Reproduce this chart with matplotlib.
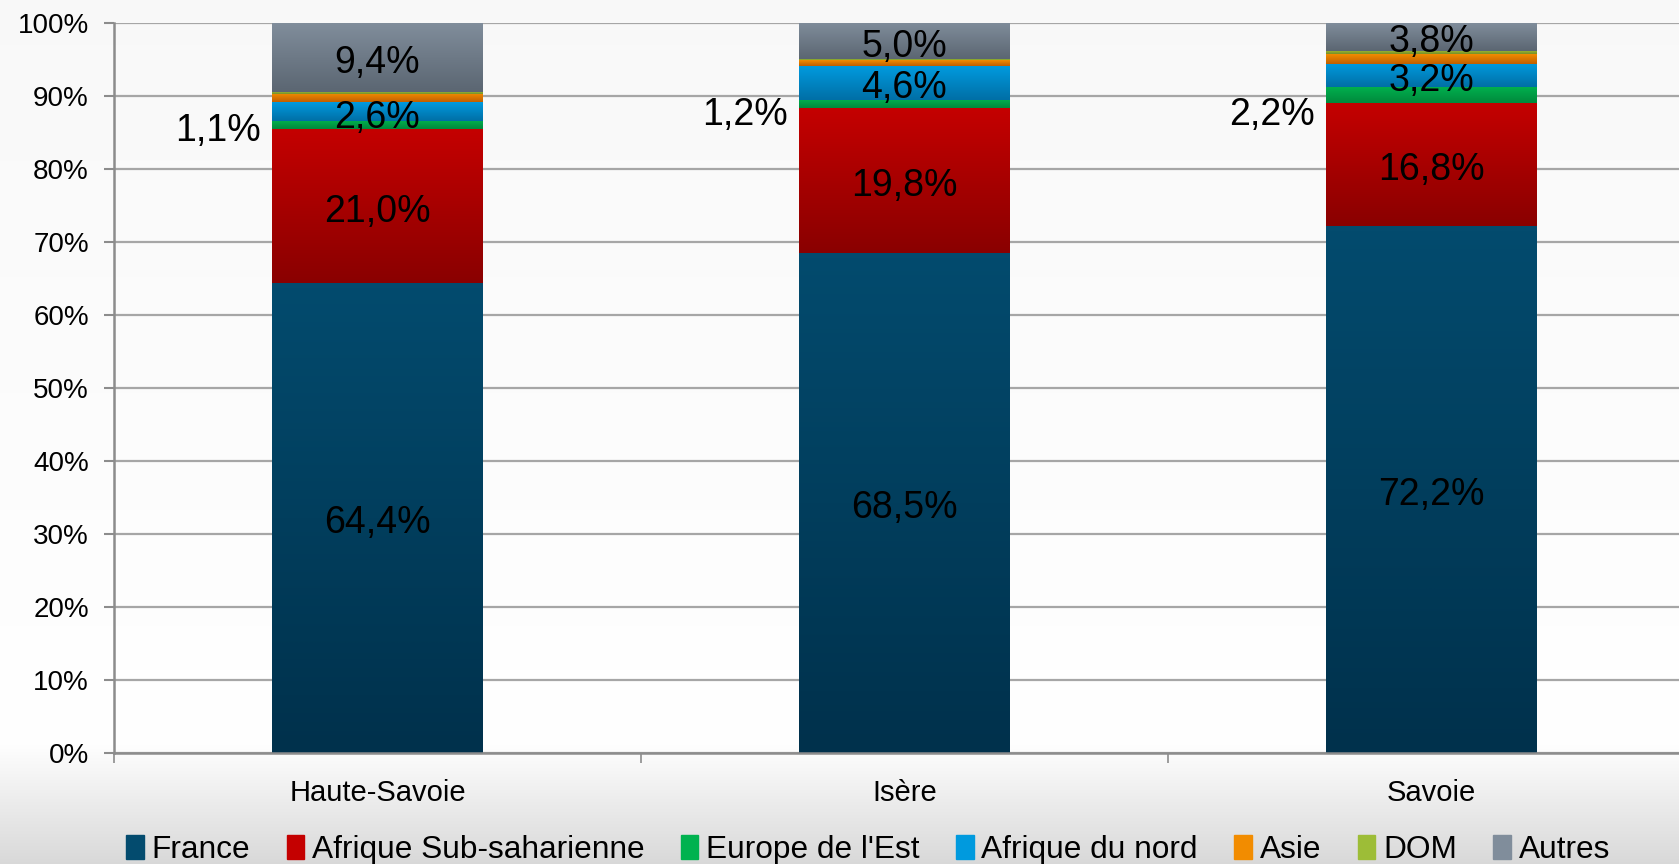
import numpy as np
import matplotlib
matplotlib.use("Agg")
import matplotlib.pyplot as plt
from matplotlib.colors import LinearSegmentedColormap

plt.rcParams["font.family"] = ["Liberation Sans", "DejaVu Sans"]

# --- data ---
departements = ["Haute-Savoie", "Isère", "Savoie"]
series_names = ["France", "Afrique Sub-saharienne", "Europe de l'Est",
                "Afrique du nord", "Asie", "DOM", "Autres"]
france = [64.4, 68.5, 72.2]
afrique_sub = [21.0, 19.8, 16.8]
europe_est = [1.1, 1.2, 2.2]
afrique_nord = [2.6, 4.6, 3.2]
asie = [1.2, 0.8, 1.3]
dom = [0.3, 0.1, 0.5]
autres = [9.4, 5.0, 3.8]
series = [france, afrique_sub, europe_est, afrique_nord, asie, dom, autres]

# which series get a data label ("center" inside the bar, "left" beside it)
label_mode = ["center", "center", "left", "center", None, None, "center"]
# small vertical nudge of the side labels (in % units), as placed in the original
side_label_dy = [0.0, -0.7, -1.9]

# gradient colours (top, bottom) per series
grad_colors = [
    ("#034b6e", "#00314c"),
    ("#c40000", "#8a0000"),
    ("#00b24f", "#00893c"),
    ("#009ade", "#006fa6"),
    ("#f28c00", "#c05f00"),
    ("#9dbd37", "#778f27"),
    ("#808d9b", "#5b6672"),
]

fig = plt.figure(figsize=(16.79, 8.64), dpi=100)

# background: white, fading to light grey below the axis
bg = fig.add_axes([0, 0, 1, 1], zorder=-10)
yy = np.linspace(0, 1, 400)  # 0 = bottom of figure
shade = np.where(yy < 0.14, 0.85 + 0.15 * (yy / 0.14), 1.0 - 0.025 * (yy - 0.14) / 0.86)
img = np.repeat(shade[:, None, None], 3, axis=2)
bg.imshow(img, extent=[0, 1, 0, 1], origin="lower", aspect="auto",
          interpolation="bilinear")
bg.axis("off")

ax = fig.add_axes([114 / 1679, 0.1285, 1581 / 1679, 0.845])
ax.set_facecolor("none")

x = np.arange(len(departements))
width = 0.40
bottoms = np.zeros(len(departements))
containers = []
for name, vals, (ctop, cbot) in zip(series_names, series, grad_colors):
    bc = ax.bar(x, vals, width, bottom=bottoms, color=ctop, label=name,
                linewidth=0, zorder=2)
    cmap = LinearSegmentedColormap.from_list(name, [cbot, ctop])
    for p in bc.patches:
        x0, y0 = p.get_x(), p.get_y()
        grad = np.linspace(0, 1, 64).reshape(-1, 1)
        im = ax.imshow(grad, extent=[x0, x0 + p.get_width(), y0, y0 + p.get_height()],
                       origin="lower", cmap=cmap, aspect="auto",
                       interpolation="bilinear", zorder=2.1)
        im.set_clip_path(p)
    containers.append((bc, bottoms.copy(), vals))
    bottoms = bottoms + np.array(vals)

# data labels
for mode, (bc, bot, vals) in zip(label_mode, containers):
    if mode is None:
        continue
    for i, v in enumerate(vals):
        txt = f"{v:.1f}%".replace(".", ",")
        yc = bot[i] + v / 2
        if mode == "center":
            ax.annotate(txt, xy=(x[i], yc), xytext=(0, -4), textcoords="offset points",
                        ha="center", va="center", fontsize=27, color="black",
                        zorder=5)
        else:
            ax.annotate(txt, xy=(x[i] - width / 2, yc + side_label_dy[i]),
                        xytext=(-8, -4), textcoords="offset points",
                        ha="right", va="center", fontsize=27, color="black",
                        zorder=5, annotation_clip=False)

ax.set_xlim(-0.5, len(departements) - 0.5)
ax.set_ylim(0, 100)
ax.set_yticks(np.arange(0, 101, 10))
ax.set_yticklabels([f"{v}%" for v in range(0, 101, 10)], fontsize=20)
ax.set_xticks(x)
ax.set_xticklabels(departements, fontsize=21)
ax.set_xticks(np.arange(-0.5, len(departements), 1.0), minor=True)
ax.tick_params(axis="x", which="major", length=0, pad=19)
ax.tick_params(axis="x", which="minor", length=7, width=1.2, color="#8c8c8c",
               direction="out")
ax.tick_params(axis="y", length=7, width=1.5, color="#8c8c8c", pad=11)

ax.yaxis.grid(True, color="#a6a6a6", linewidth=1.6, zorder=0)
ax.set_axisbelow(True)
for side in ["top", "right"]:
    ax.spines[side].set_visible(False)
for side in ["left", "bottom"]:
    ax.spines[side].set_color("#8c8c8c")
    ax.spines[side].set_linewidth(1.8)

handles = [plt.Rectangle((0, 0), 1, 1, color=c[0]) for c in grad_colors]
fig.legend(handles, series_names, loc="center", ncol=7, frameon=False,
           bbox_to_anchor=(0.517, 0.016), fontsize=22.8, handlelength=0.55,
           handleheight=0.8, handletextpad=0.25, columnspacing=1.15,
           borderpad=0)

fig.savefig("out.png", dpi=100)
